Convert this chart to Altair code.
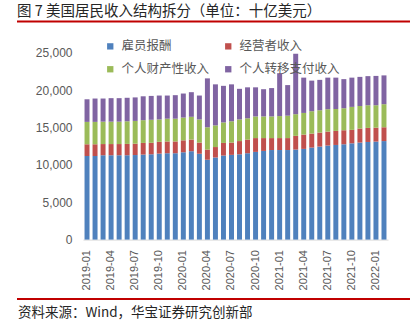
import altair as alt
import pandas as pd

months = [
    "2019-01", "2019-02", "2019-03", "2019-04", "2019-05", "2019-06", "2019-07", "2019-08",
    "2019-09", "2019-10", "2019-11", "2019-12", "2020-01", "2020-02", "2020-03", "2020-04",
    "2020-05", "2020-06", "2020-07", "2020-08", "2020-09", "2020-10", "2020-11", "2020-12",
    "2021-01", "2021-02", "2021-03", "2021-04", "2021-05", "2021-06", "2021-07", "2021-08",
    "2021-09", "2021-10", "2021-11", "2021-12", "2022-01", "2022-02",
]
tick_labels = ["2019-01", "2019-04", "2019-07", "2019-10", "2020-01", "2020-04", "2020-07",
               "2020-10", "2021-01", "2021-04", "2021-07", "2021-10", "2022-01"]

series_names = ["雇员报酬", "经营者收入", "个人财产性收入", "个人转移支付收入"]
series_colors = ["#4F81BD", "#C0504D", "#9BBB59", "#8064A2"]
# legend grid is filled column by column, so list entries in that order
legend_order = [0, 2, 1, 3]

compensation = [11200, 11200, 11300, 11300, 11300, 11300, 11330, 11390, 11430, 11520, 11570, 11570,
                11700, 11840, 11500, 10700, 11000, 11260, 11350, 11430, 11570, 11750, 11880, 12000,
                12000, 12000, 12060, 12150, 12330, 12460, 12600, 12680, 12770, 12900, 13000, 13080,
                13130, 13200]
proprietors = [1570, 1570, 1500, 1500, 1500, 1520, 1520, 1560, 1540, 1580, 1580, 1580,
               1600, 1560, 1500, 1360, 1400, 1690, 1650, 1770, 1830, 1850, 1720, 1600,
               1600, 1600, 1840, 1920, 1870, 1880, 1870, 1880, 1880, 1800, 1880, 1880,
               1870, 1850]
property_income = [3000, 3000, 3000, 3000, 3000, 3030, 3050, 3050, 3080, 3000, 3050, 3050,
                   3050, 3050, 3100, 2990, 2900, 2750, 2850, 2900, 2850, 2900, 2900, 2900,
                   2950, 3000, 2900, 2900, 3000, 2990, 3000, 2940, 2950, 3080, 3020, 3040,
                   3000, 3090]
transfers = [3030, 3130, 3100, 3150, 3150, 3150, 3150, 3200, 3200, 3200, 3100, 3150,
             3220, 3300, 3200, 6550, 5500, 4900, 4950, 4100, 4150, 3900, 3650, 3800,
             5750, 4100, 8100, 4730, 4100, 4070, 4230, 4200, 3900, 3920, 3900, 3900,
             3930, 3860]

title_text = "图\u00a07\u00a0美国居民收入结构拆分（单位：十亿美元）"
source_text = "资料来源：Wind，华宝证券研究创新部"

rows = []
for k, (name, vals) in enumerate(zip(series_names, [compensation, proprietors, property_income, transfers])):
    for m, v in zip(months, vals):
        rows.append({"month": m, "series": name, "value": v, "k": k})
df = pd.DataFrame(rows)

legend_domain = [series_names[i] for i in legend_order]
legend_range = [series_colors[i] for i in legend_order]

FONT_CJK = "Noto Sans CJK SC"
GRAY = "#595959"

bars = alt.Chart(df).mark_bar().encode(
    x=alt.X("month:N", sort=months,
            scale=alt.Scale(paddingInner=0.38, paddingOuter=0.19),
            axis=alt.Axis(title=None, values=tick_labels, labelAngle=-90, labelFontSize=11,
                          labelColor=GRAY, labelFont="Liberation Sans", ticks=False,
                          domainColor="#D9D9D9", labelPadding=10)),
    y=alt.Y("value:Q", stack="zero",
            scale=alt.Scale(domain=[0, 25000], nice=False),
            axis=alt.Axis(title=None, values=[0, 5000, 10000, 15000, 20000, 25000], format=",d",
                          grid=False, domain=False, ticks=False, labelFontSize=12,
                          labelColor=GRAY, labelFont="Liberation Sans", labelPadding=11)),
    color=alt.Color("series:N",
                    scale=alt.Scale(domain=legend_domain, range=legend_range),
                    legend=alt.Legend(title=None, orient="none", legendX=21, legendY=-13,
                                      columns=2, columnPadding=12, rowPadding=10,
                                      symbolType="square", symbolSize=40, symbolStrokeWidth=0,
                                      labelFontSize=12.5, labelFont=FONT_CJK, labelColor=GRAY,
                                      labelOffset=5, padding=0)),
    order=alt.Order("k:Q", sort="ascending"),
)

title_df = pd.DataFrame({"t": [title_text]})
source_df = pd.DataFrame({"t": [source_text]})

title_mark = alt.Chart(title_df).mark_text(
    align="left", baseline="middle", fontSize=14.5, font=FONT_CJK, color="#262626"
).encode(text="t:N", x=alt.value(-66), y=alt.value(-41))

source_mark = alt.Chart(source_df).mark_text(
    align="left", baseline="middle", fontSize=13.5, font=FONT_CJK, color="#262626"
).encode(text="t:N", x=alt.value(-65), y=alt.value(260))

top_rule = alt.Chart(title_df).mark_rule(color="#C00000", strokeWidth=2).encode(
    x=alt.value(-66), x2=alt.value(327), y=alt.value(-31.5))
bottom_rule = alt.Chart(title_df).mark_rule(color="#C00000", strokeWidth=2).encode(
    x=alt.value(-66), x2=alt.value(327), y=alt.value(246))

chart = alt.layer(bars, title_mark, source_mark, top_rule, bottom_rule).properties(
    width=305, height=186.6,
    autosize=alt.AutoSizeParams(type="none"),
    padding={"left": 83, "top": 53, "right": 28, "bottom": 88},
    background="white",
).configure_view(stroke=None)

chart.save("out.html", embed_options={"renderer": "svg", "actions": False})
